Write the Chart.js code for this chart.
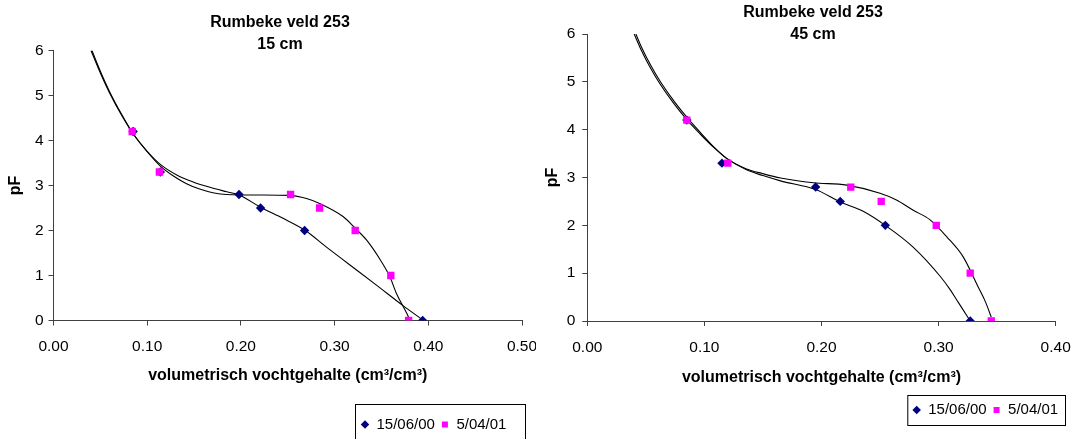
<!DOCTYPE html>
<html>
<head>
<meta charset="utf-8" />
<title>Rumbeke veld 253 - pF curves</title>
<script src="https://cdn.jsdelivr.net/npm/chart.js@4.4.0/dist/chart.umd.min.js"></script>
<style>
  body { margin: 0; background: #fff; overflow: hidden; width: 1078px; height: 439px; position: relative; }
  .grafiek { position: absolute; top: 0; }
</style>
</head>
<body>

<!-- linker grafiek wordt rechts afgesneden zoals in het origineel -->
<div style="position:absolute;left:0;top:0;width:536px;height:442px;overflow:hidden">
  <div class="grafiek" style="left:0px;width:560px;height:442px"><canvas id="g15"></canvas></div>
</div>
<div class="grafiek" style="left:533px;width:560px;height:432px"><canvas id="g45"></canvas></div>

<script>
// ---- 15 cm : metingen ----
const x15_a = [0.085, 0.114, 0.198, 0.221, 0.268, 0.394];          // 15/06/00
const pf15_a = [4.2, 3.3, 2.8, 2.5, 2.0, 0.0];
const x15_b = [0.084, 0.113, 0.253, 0.284, 0.322, 0.360, 0.379];   // 5/04/01
const pf15_b = [4.2, 3.3, 2.8, 2.5, 2.0, 1.0, 0.0];

const x15_ta = [0.040, 0.050, 0.060, 0.073, 0.085, 0.100, 0.114, 0.132, 0.149, 0.167, 0.185, 0.198, 0.220, 0.245, 0.268, 0.292, 0.316, 0.345, 0.373, 0.395];
const pf15_ta = [6.0, 5.50, 5.05, 4.55, 4.15, 3.76, 3.47, 3.23, 3.08, 2.96, 2.86, 2.79, 2.53, 2.27, 2.01, 1.62, 1.24, 0.78, 0.33, 0.0];
const x15_tb = [0.041, 0.050, 0.060, 0.073, 0.085, 0.100, 0.114, 0.128, 0.142, 0.156, 0.170, 0.185, 0.220, 0.252, 0.270, 0.284, 0.309, 0.322, 0.334, 0.349, 0.359, 0.366, 0.377, 0.379];
const pf15_tb = [6.0, 5.54, 5.08, 4.57, 4.15, 3.75, 3.43, 3.21, 3.04, 2.92, 2.84, 2.80, 2.79, 2.78, 2.71, 2.60, 2.31, 2.05, 1.79, 1.34, 0.97, 0.60, 0.16, 0.07];

// ---- 45 cm : metingen ----
const x45_a = [0.085, 0.115, 0.195, 0.216, 0.2545, 0.327];
const pf45_a = [4.2, 3.3, 2.8, 2.5, 2.0, 0.0];
const x45_b = [0.085, 0.120, 0.225, 0.251, 0.298, 0.327, 0.345];
const pf45_b = [4.2, 3.3, 2.8, 2.5, 2.0, 1.0, 0.0];

// ---- 45 cm : trendlijnen ----
const x45_ta = [0.0400, 0.045, 0.0535, 0.062, 0.0735, 0.085, 0.096, 0.1075, 0.119, 0.136, 0.150, 0.165, 0.195, 0.216, 0.236, 0.2545, 0.278, 0.3015, 0.310, 0.3155, 0.3197, 0.327];
const pf45_ta = [6.0, 5.72, 5.31, 4.96, 4.56, 4.21, 3.92, 3.64, 3.40, 3.16, 3.04, 2.93, 2.75, 2.49, 2.29, 2.00, 1.55, 0.93, 0.65, 0.44, 0.28, 0.0];
const x45_tb = [0.0415, 0.046, 0.0545, 0.063, 0.0745, 0.086, 0.097, 0.108, 0.119, 0.136, 0.150, 0.165, 0.193, 0.2215, 0.250, 0.264, 0.278, 0.293, 0.307, 0.321, 0.334, 0.340, 0.345];
const pf45_tb = [6.0, 5.74, 5.33, 4.98, 4.58, 4.23, 3.93, 3.64, 3.40, 3.18, 3.08, 2.99, 2.89, 2.84, 2.67, 2.53, 2.32, 2.11, 1.76, 1.34, 0.70, 0.40, 0.08];

const reeksen = ['15/06/00', '5/04/01'];
const yTicks = [0, 1, 2, 3, 4, 5, 6];
const xTitel = 'volumetrisch vochtgehalte (cm³/cm³)';

const lettertype = "'Liberation Sans', Arial, sans-serif";
const navy = '#000080';
const roze = '#FF00FF';
const as = '#404040';

function punten(xs, ys) {
    return xs.map((x, i) => ({ x: x, y: ys[i] }));
}

// legenda verplaatsen + kader tekenen
const legendeKader = {
    id: 'legendeKader',
    afterLayout(chart, args, opts) {
        const lg = chart.legend;
        if (!lg || !opts.left) return;
        const w = lg.right - lg.left, h = lg.bottom - lg.top;
        lg.left = opts.left; lg.right = opts.left + w;
        lg.top = opts.top; lg.bottom = opts.top + h;
    },
    afterDraw(chart, args, opts) {
        const f = opts.frame;
        if (!f) return;
        const ctx = chart.ctx;
        ctx.save();
        ctx.strokeStyle = '#000';
        ctx.lineWidth = 1;
        ctx.strokeRect(f.x + 0.5, f.y + 0.5, f.w, f.h);
        ctx.restore();
    }
};

function maakGrafiek(id, c) {
    const data = {
        datasets: [
            { label: reeksen[0], data: punten(c.xa, c.pfa), pointStyle: 'rectRot', pointRadius: 4.7,
              backgroundColor: navy, borderColor: navy, borderWidth: 0, showLine: false, order: 1 },
            { label: reeksen[1], data: punten(c.xb, c.pfb), pointStyle: 'rect', pointRadius: 5.2,
              backgroundColor: roze, borderColor: roze, borderWidth: 0, showLine: false, order: 0 },
            { label: 'trend ' + reeksen[0], data: punten(c.xta, c.pfta), showLine: true, pointRadius: 0,
              borderColor: '#000', borderWidth: 1.1, cubicInterpolationMode: 'monotone', order: 2 },
            { label: 'trend ' + reeksen[1], data: punten(c.xtb, c.pftb), showLine: true, pointRadius: 0,
              borderColor: '#000', borderWidth: 1.1, cubicInterpolationMode: 'monotone', order: 3 }
        ]
    };

    return new Chart(document.getElementById(id), {
        type: 'scatter',
        data: data,
        plugins: [legendeKader],
        options: {
            responsive: true,
            maintainAspectRatio: false,
            animation: false,
            events: [],
            layout: { padding: 0 },
            plugins: {
                title: {
                    display: true,
                    text: ['Rumbeke veld 253', c.diepte],
                    color: '#000',
                    font: { family: lettertype, size: 16, weight: 'bold', lineHeight: 22 / 16 },
                    padding: c.titelPad
                },
                legend: {
                    display: true,
                    position: 'bottom',
                    align: 'start',
                    labels: {
                        usePointStyle: true,
                        boxWidth: 8,
                        boxHeight: 6,
                        padding: 6,
                        color: '#000',
                        font: { family: lettertype, size: 15 },
                        filter: (item) => item.datasetIndex < 2,
                        sort: (a, b) => a.datasetIndex - b.datasetIndex
                    }
                },
                tooltip: { enabled: false },
                legendeKader: c.legende
            },
            scales: {
                x: {
                    type: 'linear',
                    min: 0,
                    max: c.xMax,
                    ticks: {
                        stepSize: 0.1,
                        autoSkip: false,
                        maxRotation: 0,
                        padding: c.xTickPad,
                        color: '#000',
                        font: { family: lettertype, size: 15.5 },
                        callback: (v) => Number(v).toFixed(2)
                    },
                    grid: { drawOnChartArea: false, drawTicks: true, tickLength: 5, color: as },
                    border: { display: true, color: as, width: 1 },
                    title: {
                        display: true,
                        text: xTitel,
                        color: '#000',
                        font: { family: lettertype, size: 16, weight: 'bold' },
                        padding: { top: 0, bottom: c.xTitelPad }
                    },
                    afterFit: (s) => {
                        s.height = c.xHoogte;
                        s.paddingLeft = 0;
                        s.paddingRight = c.rechts;
                    }
                },
                y: {
                    type: 'linear',
                    min: 0,
                    max: 6,
                    afterBuildTicks: (s) => { s.ticks = yTicks.map(v => ({ value: v })); },
                    ticks: {
                        padding: c.yTickPad,
                        color: '#000',
                        font: { family: lettertype, size: 15.5 }
                    },
                    grid: { drawOnChartArea: false, drawTicks: true, tickLength: 5, color: as },
                    border: { display: true, color: as, width: 1 },
                    title: {
                        display: true,
                        text: 'pF',
                        color: '#000',
                        font: { family: lettertype, size: 16, weight: 'bold' },
                        padding: { top: c.yTitelPad, bottom: 0 }
                    },
                    afterFit: (s) => { s.width = c.yBreedte; }
                }
            }
        }
    });
}

maakGrafiek('g15', {
    diepte: '15 cm',
    xa: x15_a, pfa: pf15_a, xb: x15_b, pfb: pf15_b,
    xta: x15_ta, pfta: pf15_ta, xtb: x15_tb, pftb: pf15_tb,
    xMax: 0.5,
    titelPad: { top: 11.3, bottom: -4.8 },
    xTickPad: 11.5, xTitelPad: 25.4, xHoogte: 90.5, rechts: 38,
    yTickPad: 5, yTitelPad: 6, yBreedte: 53.5,
    legende: { left: 355, top: 411, frame: { x: 355, y: 404, w: 170, h: 38 } }
});

maakGrafiek('g45', {
    diepte: '45 cm',
    xa: x45_a, pfa: pf45_a, xb: x45_b, pfb: pf45_b,
    xta: x45_ta, pfta: pf45_ta, xtb: x45_tb, pftb: pf45_tb,
    xMax: 0.4,
    titelPad: { top: 1.3, bottom: -11.3 },
    xTickPad: 12, xTitelPad: 13.4, xHoogte: 80, rechts: 37.3,
    yTickPad: 7, yTitelPad: 10.4, yBreedte: 54.3,
    legende: { left: 373.7, top: 396.5, frame: { x: 374.3, y: 395, w: 157.7, h: 30 } }
});
</script>
</body>
</html>
